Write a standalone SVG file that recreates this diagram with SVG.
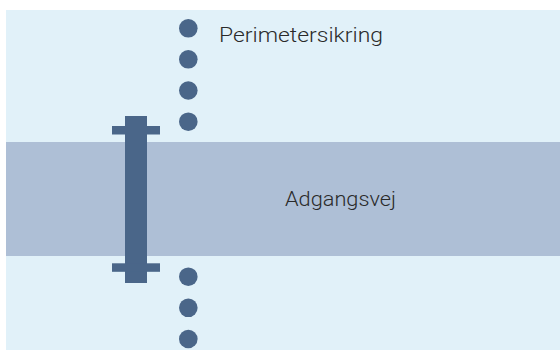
<svg xmlns="http://www.w3.org/2000/svg" width="560" height="350" viewBox="0 0 560 350">
  <style>
    .ground { fill: #e1f1f9; }
    .road { fill: #aebfd6; }
    .post { fill: #4a6689; }
    .label { font-family: Roboto, "Liberation Sans", sans-serif; font-weight: 300; font-size: 20px; fill: #2a2a2a; }
  </style>
  <defs>
    <circle id="dot" r="9.3" class="post"/>
  </defs>
  <rect x="6" y="10" width="554" height="340" class="ground"/>
  <g id="road">
    <rect x="6" y="142" width="554" height="114" class="road"/>
    <text x="285" y="206" class="label" textLength="111" lengthAdjust="spacingAndGlyphs">Adgangsvej</text>
  </g>
  <g id="perimeter">
    <use href="#dot" x="188.3" y="28.3"/>
    <use href="#dot" x="188.3" y="59.3"/>
    <use href="#dot" x="188.3" y="90.5"/>
    <use href="#dot" x="188.3" y="121.7"/>
    <use href="#dot" x="188.3" y="276.7"/>
    <use href="#dot" x="188.3" y="307.8"/>
    <use href="#dot" x="188.3" y="339"/>
    <text x="219" y="42.3" class="label" textLength="164" lengthAdjust="spacingAndGlyphs">Perimetersikring</text>
  </g>
  <g id="barrier">
    <rect x="125" y="116" width="22" height="167" class="post"/>
    <rect x="112" y="126" width="48" height="8.5" class="post"/>
    <rect x="112" y="263.3" width="48" height="8.5" class="post"/>
  </g>
</svg>
